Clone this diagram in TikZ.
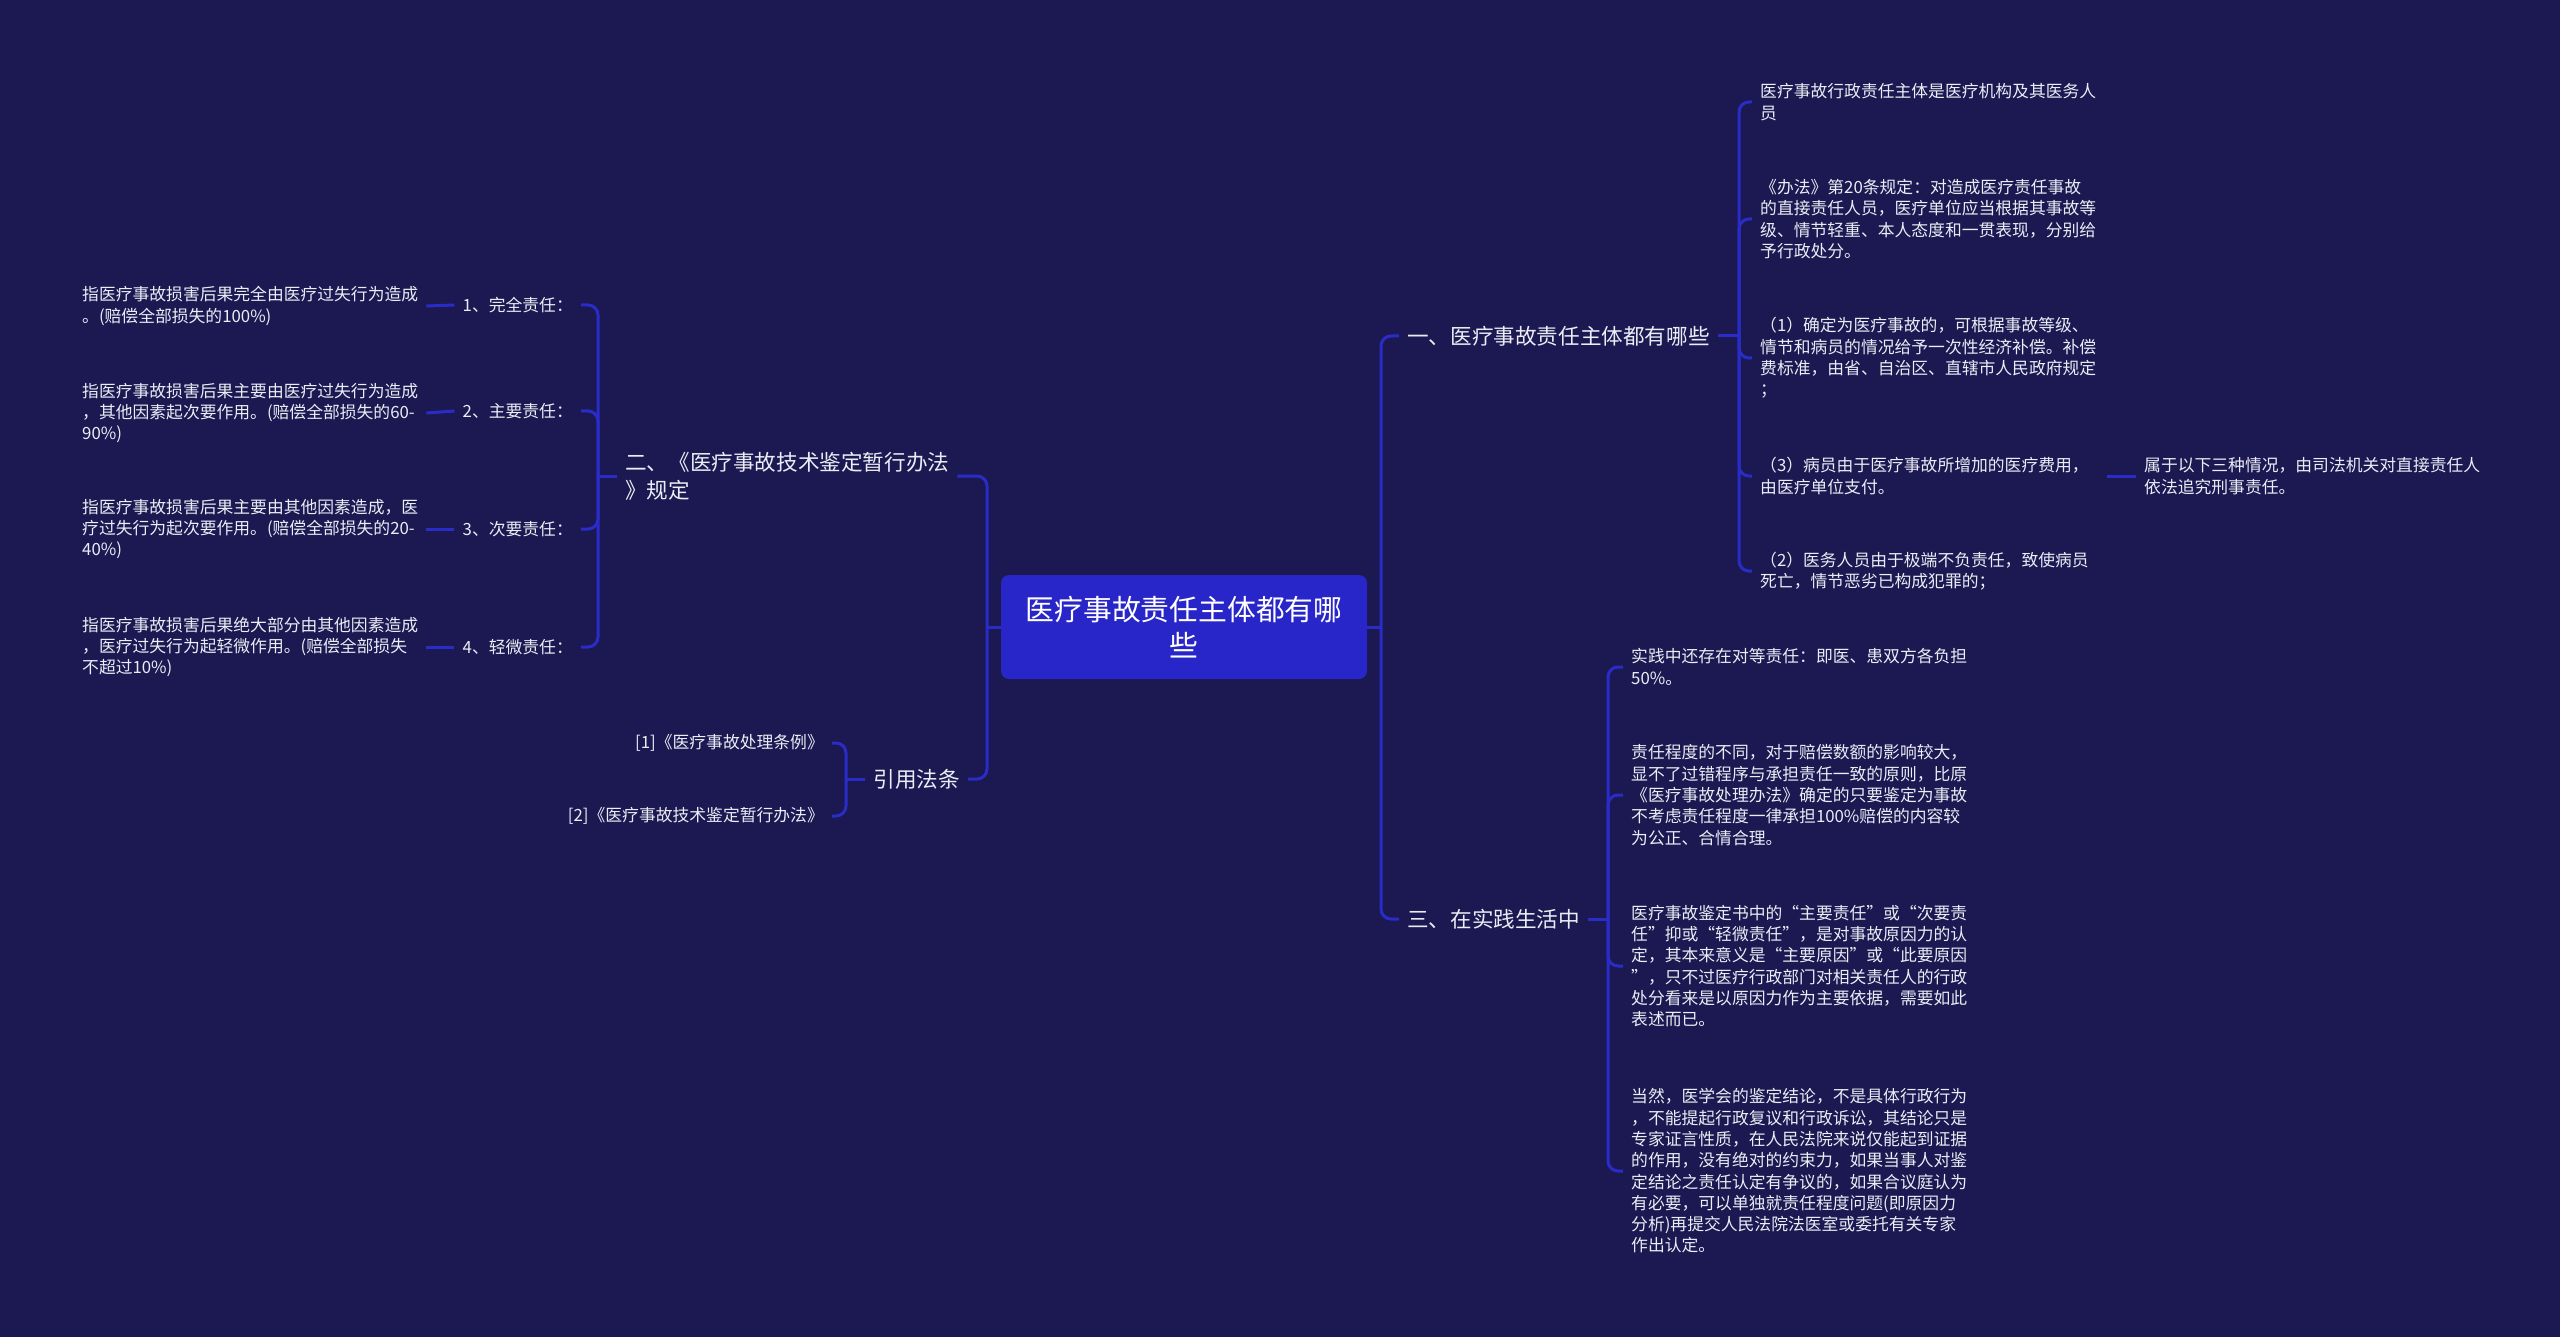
\documentclass[tikz,border=0pt]{standalone}
\usepackage{fontspec}
\setmainfont{Noto Sans CJK SC}
\definecolor{bg}{RGB}{27,24,82}
\definecolor{linec}{RGB}{42,44,200}
\definecolor{rootc}{RGB}{40,38,200}
\definecolor{txt}{RGB}{236,236,244}
\tikzset{
  leaf/.style={font=\fontsize{16.8}{21.3}\selectfont, text=txt, inner xsep=8pt, inner ysep=2pt},
  branch/.style={font=\fontsize{21.6}{28}\selectfont, text=txt, inner xsep=8pt, inner ysep=2pt},
  rootbox/.style={fill=rootc, rounded corners=8pt, text=white, font=\fontsize{28.8}{36}\selectfont, align=center, minimum width=366pt, minimum height=104pt, inner sep=0pt},
  link/.style={draw=linec, line width=3pt, rounded corners=10pt},
}
\begin{document}
\begin{tikzpicture}[x=1pt,y=-1pt]
\fill[bg] (0,0) rectangle (2560,1337);
\useasboundingbox (0,0) rectangle (2560,1337);

% root
\node[rootbox] (root) at (1184,627) {医疗事故责任主体都有哪\\些};

% bracket coordinates
\coordinate (mr) at (1381,627);
\coordinate (ml) at (987,627);

% right branches
\node[branch, anchor=west, align=left] (b1) at (1399,336) {一、医疗事故责任主体都有哪些};
\node[branch, anchor=west, align=left] (b3) at (1399,919) {三、在实践生活中};
\coordinate (k1) at (1739,336);
\coordinate (k3) at (1608,919);

\node[leaf, anchor=west, align=left] (c1) at (1752,102) {医疗事故行政责任主体是医疗机构及其医务人\\员};
\node[leaf, anchor=west, align=left] (c2) at (1752,219) {《办法》第20条规定：对造成医疗责任事故\\的直接责任人员，医疗单位应当根据其事故等\\级、情节轻重、本人态度和一贯表现，分别给\\予行政处分。};
\node[leaf, anchor=west, align=left] (c3) at (1752,358) {（1）确定为医疗事故的，可根据事故等级、\\情节和病员的情况给予一次性经济补偿。补偿\\费标准，由省、自治区、直辖市人民政府规定\\；};
\node[leaf, anchor=west, align=left] (c4) at (1752,476) {（3）病员由于医疗事故所增加的医疗费用，\\由医疗单位支付。};
\node[leaf, anchor=west, align=left] (c5) at (1752,571) {（2）医务人员由于极端不负责任，致使病员\\死亡，情节恶劣已构成犯罪的；};
\node[leaf, anchor=west, align=left] (e1) at (2136,476) {属于以下三种情况，由司法机关对直接责任人\\依法追究刑事责任。};

\node[leaf, anchor=west, align=left] (d1) at (1623,667) {实践中还存在对等责任：即医、患双方各负担\\50\%。};
\node[leaf, anchor=west, align=left] (d2) at (1623,795) {责任程度的不同，对于赔偿数额的影响较大，\\显不了过错程序与承担责任一致的原则，比原\\《医疗事故处理办法》确定的只要鉴定为事故\\不考虑责任程度一律承担100\%赔偿的内容较\\为公正、合情合理。};
\node[leaf, anchor=west, align=left] (d3) at (1623,966) {医疗事故鉴定书中的“主要责任”或“次要责\\任”抑或“轻微责任”，是对事故原因力的认\\定，其本来意义是“主要原因”或“此要原因\\”，只不过医疗行政部门对相关责任人的行政\\处分看来是以原因力作为主要依据，需要如此\\表述而已。};
\node[leaf, anchor=west, align=left] (d4) at (1623,1171) {当然，医学会的鉴定结论，不是具体行政行为\\，不能提起行政复议和行政诉讼，其结论只是\\专家证言性质，在人民法院来说仅能起到证据\\的作用，没有绝对的约束力，如果当事人对鉴\\定结论之责任认定有争议的，如果合议庭认为\\有必要，可以单独就责任程度问题(即原因力\\分析)再提交人民法院法医室或委托有关专家\\作出认定。};

% left branches
\node[branch, anchor=west, align=left] (b2) at (617,476) {二、《医疗事故技术鉴定暂行办法\\》规定};
\node[branch, anchor=east, align=right] (b4) at (968,779) {引用法条};
\coordinate (k2) at (598,476);
\coordinate (k4) at (846,779);

\node[leaf, anchor=east, align=right] (i1) at (581,305) {1、完全责任：};
\node[leaf, anchor=east, align=right] (i2) at (581,411) {2、主要责任：};
\node[leaf, anchor=east, align=right] (i3) at (581,529) {3、次要责任：};
\node[leaf, anchor=east, align=right] (i4) at (581,647) {4、轻微责任：};

\node[leaf, anchor=west, align=left] (l1) at (74,306) {指医疗事故损害后果完全由医疗过失行为造成\\。(赔偿全部损失的100\%)};
\node[leaf, anchor=west, align=left] (l2) at (74,413) {指医疗事故损害后果主要由医疗过失行为造成\\，其他因素起次要作用。(赔偿全部损失的60-\\90\%)};
\node[leaf, anchor=west, align=left] (l3) at (74,529) {指医疗事故损害后果主要由其他因素造成，医\\疗过失行为起次要作用。(赔偿全部损失的20-\\40\%)};
\node[leaf, anchor=west, align=left] (l4) at (74,647) {指医疗事故损害后果绝大部分由其他因素造成\\，医疗过失行为起轻微作用。(赔偿全部损失\\不超过10\%)};

\node[leaf, anchor=east, align=right] (r1) at (832,743) {[1]《医疗事故处理条例》};
\node[leaf, anchor=east, align=right] (r2) at (832,816) {[2]《医疗事故技术鉴定暂行办法》};

% connectors: root
\draw[link] (root.east) -- (mr);
\draw[link] (root.west) -- (ml);
\draw[link] (mr) |- (b1.west);
\draw[link] (mr) |- (b3.west);
\draw[link] (ml) |- (b2.east);
\draw[link] (ml) |- (b4.east);

% branch 1
\draw[link] (b1.east) -- (k1);
\foreach \c in {c1,c2,c3,c4,c5} \draw[link] (k1) |- (\c.west);
\draw[link, shorten <=10pt] (c4.east) -- (e1.west);

% branch 3
\draw[link] (b3.east) -- (k3);
\foreach \c in {d1,d2,d3,d4} \draw[link] (k3) |- (\c.west);

% branch 2
\draw[link] (b2.west) -- (k2);
\foreach \c in {i1,i2,i3,i4} \draw[link] (k2) |- (\c.east);
\draw[link] (l1.east) -- (i1.west);
\draw[link] (l2.east) -- (i2.west);
\draw[link] (l3.east) -- (i3.west);
\draw[link] (l4.east) -- (i4.west);

% branch 4
\draw[link] (b4.west) -- (k4);
\draw[link] (k4) |- (r1.east);
\draw[link] (k4) |- (r2.east);
\end{tikzpicture}
\end{document}
